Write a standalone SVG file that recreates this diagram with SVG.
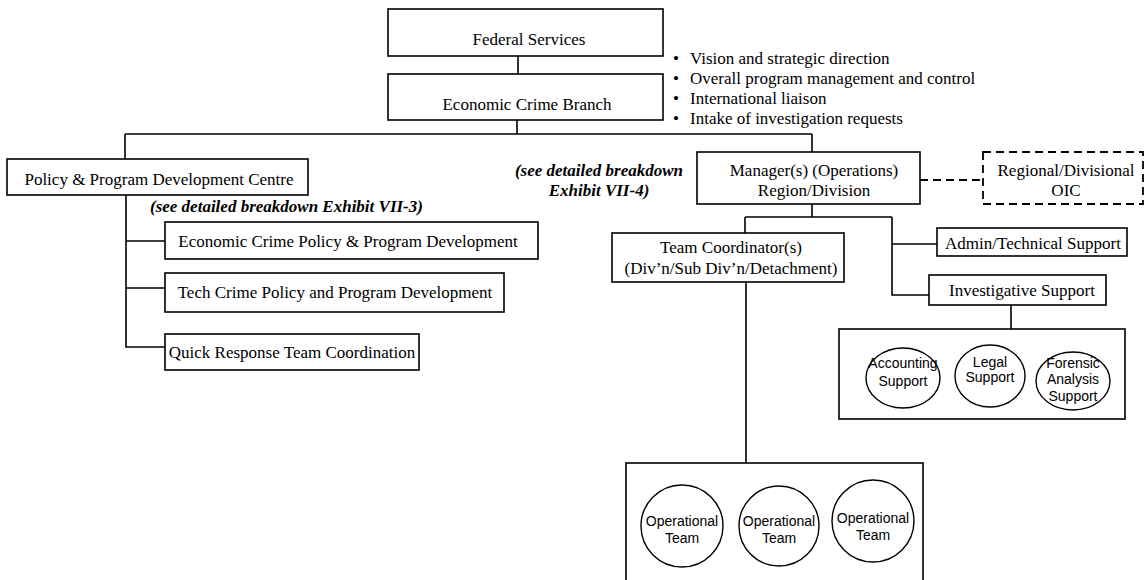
<svg xmlns="http://www.w3.org/2000/svg" width="1146" height="580" viewBox="0 0 1146 580">
  <style>
    .box { fill: #fff; stroke: #000; stroke-width: 1.6; }
    .dash { fill: #fff; stroke: #000; stroke-width: 1.8; stroke-dasharray: 8 5; }
    .cont { fill: none; stroke: #000; stroke-width: 1.6; }
    .circ { fill: #fff; stroke: #000; stroke-width: 1.4; }
    .ln { fill: none; stroke: #000; stroke-width: 1.6; }
    .dln { fill: none; stroke: #000; stroke-width: 1.8; stroke-dasharray: 8 5; }
    .t { font-family: "Liberation Serif", "Times New Roman", serif; font-size: 17px; fill: #000; }
    .c { text-anchor: middle; }
    .note { font-family: "Liberation Serif", "Times New Roman", serif; font-size: 17px; font-weight: bold; font-style: italic; fill: #000; }
    .s { font-family: "Liberation Sans", Arial, sans-serif; font-size: 14px; fill: #000; text-anchor: middle; }
  </style>

  <!-- connectors -->
  <g id="connectors">
    <line class="ln" x1="518" y1="56" x2="518" y2="74"/>
    <line class="ln" x1="517" y1="120" x2="517" y2="134"/>
    <line class="ln" x1="125" y1="134" x2="812" y2="134"/>
    <line class="ln" x1="125" y1="134" x2="125" y2="159"/>
    <polyline class="ln" points="126,195 126,347 165,347"/>
    <line class="ln" x1="126" y1="241" x2="165" y2="241"/>
    <line class="ln" x1="126" y1="288" x2="165" y2="288"/>
    <line class="ln" x1="812" y1="134" x2="812" y2="152"/>
    <line class="dln" x1="920" y1="180" x2="983" y2="180"/>
    <line class="ln" x1="812" y1="204" x2="812" y2="217"/>
    <line class="ln" x1="745" y1="217" x2="892" y2="217"/>
    <line class="ln" x1="745" y1="217" x2="745" y2="233"/>
    <polyline class="ln" points="892,217 892,295 929,295"/>
    <line class="ln" x1="892" y1="244" x2="937" y2="244"/>
    <line class="ln" x1="1011" y1="305" x2="1011" y2="329"/>
    <line class="ln" x1="746" y1="282" x2="746" y2="463"/>
  </g>

  <g id="federal-services">
    <rect class="box" x="388" y="9" width="275" height="47"/>
    <text class="t c" x="529" y="45">Federal Services</text>
  </g>

  <g id="economic-crime-branch">
    <rect class="box" x="388" y="74" width="275" height="46"/>
    <text class="t c" x="527" y="110">Economic Crime Branch</text>
  </g>

  <g id="branch-responsibilities">
    <text class="t" x="673" y="64">•</text>
    <text class="t" x="690" y="64">Vision and strategic direction</text>
    <text class="t" x="673" y="84">•</text>
    <text class="t" x="690" y="84">Overall program management and control</text>
    <text class="t" x="673" y="104">•</text>
    <text class="t" x="690" y="104">International liaison</text>
    <text class="t" x="673" y="124">•</text>
    <text class="t" x="690" y="124">Intake of investigation requests</text>
  </g>

  <g id="policy-centre">
    <rect class="box" x="7" y="159" width="301" height="36"/>
    <text class="t c" x="159" y="185">Policy &amp; Program Development Centre</text>
  </g>

  <g id="note-vii-3">
    <text class="note" x="150" y="212">(see detailed breakdown Exhibit VII-3)</text>
  </g>

  <g id="economic-crime-policy">
    <rect class="box" x="165" y="222" width="373" height="37"/>
    <text class="t c" x="348" y="247">Economic Crime Policy &amp; Program Development</text>
  </g>

  <g id="tech-crime-policy">
    <rect class="box" x="165" y="273" width="339" height="39"/>
    <text class="t c" x="335" y="298">Tech Crime Policy and Program Development</text>
  </g>

  <g id="quick-response">
    <rect class="box" x="165" y="334" width="254" height="36"/>
    <text class="t c" x="292" y="358">Quick Response Team Coordination</text>
  </g>

  <g id="note-vii-4">
    <text class="note c" x="599" y="176">(see detailed breakdown</text>
    <text class="note c" x="599" y="196">Exhibit VII-4)</text>
  </g>

  <g id="managers">
    <rect class="box" x="697" y="152" width="223" height="52"/>
    <text class="t c" x="814" y="176">Manager(s) (Operations)</text>
    <text class="t c" x="814" y="196">Region/Division</text>
  </g>

  <g id="regional-oic">
    <rect class="dash" x="983" y="152" width="160" height="52"/>
    <text class="t c" x="1066" y="176">Regional/Divisional</text>
    <text class="t c" x="1066" y="196">OIC</text>
  </g>

  <g id="team-coordinators">
    <rect class="box" x="612" y="233" width="232" height="49"/>
    <text class="t c" x="731" y="253">Team Coordinator(s)</text>
    <text class="t c" x="731" y="274">(Div’n/Sub Div’n/Detachment)</text>
  </g>

  <g id="admin-support">
    <rect class="box" x="937" y="228" width="190" height="28"/>
    <text class="t c" x="1033" y="249">Admin/Technical Support</text>
  </g>

  <g id="investigative-support">
    <rect class="box" x="929" y="275" width="177" height="30"/>
    <text class="t c" x="1022" y="296">Investigative Support</text>
  </g>

  <g id="support-units">
    <rect class="cont" x="839" y="329" width="286" height="90"/>
    <ellipse class="circ" cx="903" cy="378" rx="37" ry="30"/>
    <text class="s" x="903" y="368">Accounting</text>
    <text class="s" x="903" y="386">Support</text>
    <ellipse class="circ" cx="990" cy="376" rx="35" ry="31"/>
    <text class="s" x="990" y="367">Legal</text>
    <text class="s" x="990" y="382">Support</text>
    <ellipse class="circ" cx="1073" cy="381" rx="37" ry="29"/>
    <text class="s" x="1073" y="368">Forensic</text>
    <text class="s" x="1073" y="384">Analysis</text>
    <text class="s" x="1073" y="401">Support</text>
  </g>

  <g id="operational-teams">
    <rect class="cont" x="626" y="463" width="297" height="140"/>
    <circle class="circ" cx="682" cy="526" r="41"/>
    <text class="s" x="682" y="526">Operational</text>
    <text class="s" x="682" y="543">Team</text>
    <circle class="circ" cx="779" cy="526" r="40"/>
    <text class="s" x="779" y="526">Operational</text>
    <text class="s" x="779" y="543">Team</text>
    <circle class="circ" cx="873" cy="521" r="41"/>
    <text class="s" x="873" y="523">Operational</text>
    <text class="s" x="873" y="540">Team</text>
  </g>
</svg>
